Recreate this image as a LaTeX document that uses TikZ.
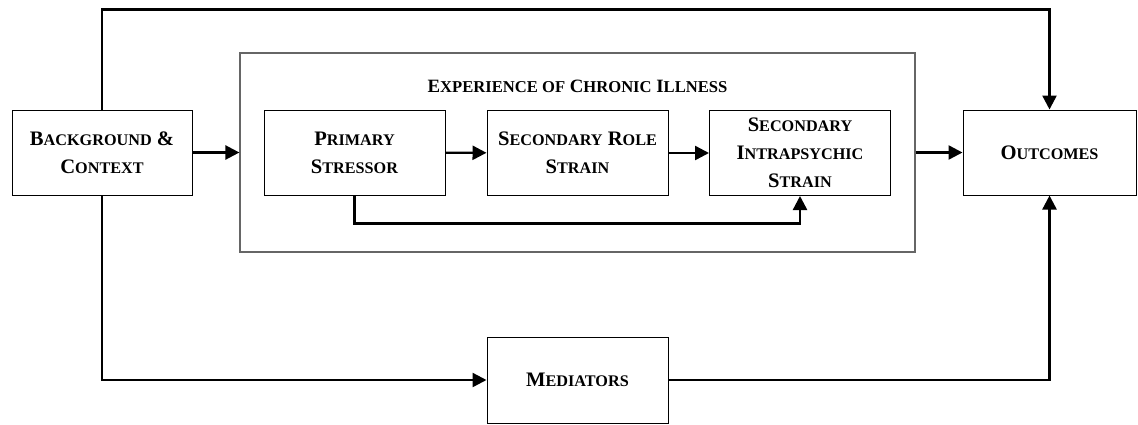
\documentclass[tikz,border=0pt]{standalone}
\usepackage{fontspec}
\setmainfont{Liberation Serif}
\usetikzlibrary{arrows.meta, positioning}
% fake small capitals: first letter large, the rest smaller
\newcommand{\capsc}[2]{#1{\fontsize{8.1}{14}\selectfont #2}}
\newcommand{\titlesc}[2]{#1{\fontsize{8.3}{12}\selectfont #2}}

\begin{document}
\begin{tikzpicture}[x=0.5pt, y=-0.5pt,
        box/.style={rectangle, draw=black, line width=0.5pt,
                    minimum width=90.5pt, minimum height=42.5pt,
                    align=center, inner sep=2pt,
                    font=\bfseries\fontsize{10.3}{14}\selectfont},
        frame/.style={rectangle, draw=black!60, line width=0.6pt,
                      minimum width=337.5pt, minimum height=99.5pt},
        arr/.style={-{Triangle[length=7pt, width=7pt]}, line width=1.2pt}
    ]
    \useasboundingbox (0,0) rectangle (1138,424);

    \node[frame] (outer) at (577.5, 152.5) {};
    \node[font=\bfseries\fontsize{9.4}{12}\selectfont] (title) at (577.5, 86)
        {\titlesc{E}{XPERIENCE OF} \titlesc{C}{HRONIC} \titlesc{I}{LLNESS}};

    \node[box, minimum width=90pt]   (bg)    at (102, 152.5)   {\capsc{B}{ACKGROUND} \&\\\capsc{C}{ONTEXT}};
    \node[box]                       (prim)  at (354.5, 152.5) {\capsc{P}{RIMARY}\\\capsc{S}{TRESSOR}};
    \node[box]                       (role)  at (577.5, 153)   {\capsc{S}{ECONDARY} \capsc{R}{OLE}\\\capsc{S}{TRAIN}};
    \node[box]                       (intra) at (800, 153)     {\capsc{S}{ECONDARY}\\\capsc{I}{NTRAPSYCHIC}\\\capsc{S}{TRAIN}};
    \node[box, minimum width=86.5pt] (out)   at (1049.5, 152.5) {\capsc{O}{UTCOMES}};
    \node[box, minimum height=43pt]  (med)   at (577.5, 380)   {\capsc{M}{EDIATORS}};

    \draw[arr] (bg) -- (outer);
    \draw[arr] (prim) -- (role);
    \draw[arr] (role) -- (intra);
    \draw[arr] (outer) -- (out);
    \draw[arr] (prim.south) -- ++(0,28) -| (intra.south);
    \draw[arr] (bg.north) -- ++(0,-100) -| (out.north);
    \draw[arr] (bg.south) |- (med.west);
    \draw[arr] (med.east) -| (out.south);
\end{tikzpicture}
\end{document}
